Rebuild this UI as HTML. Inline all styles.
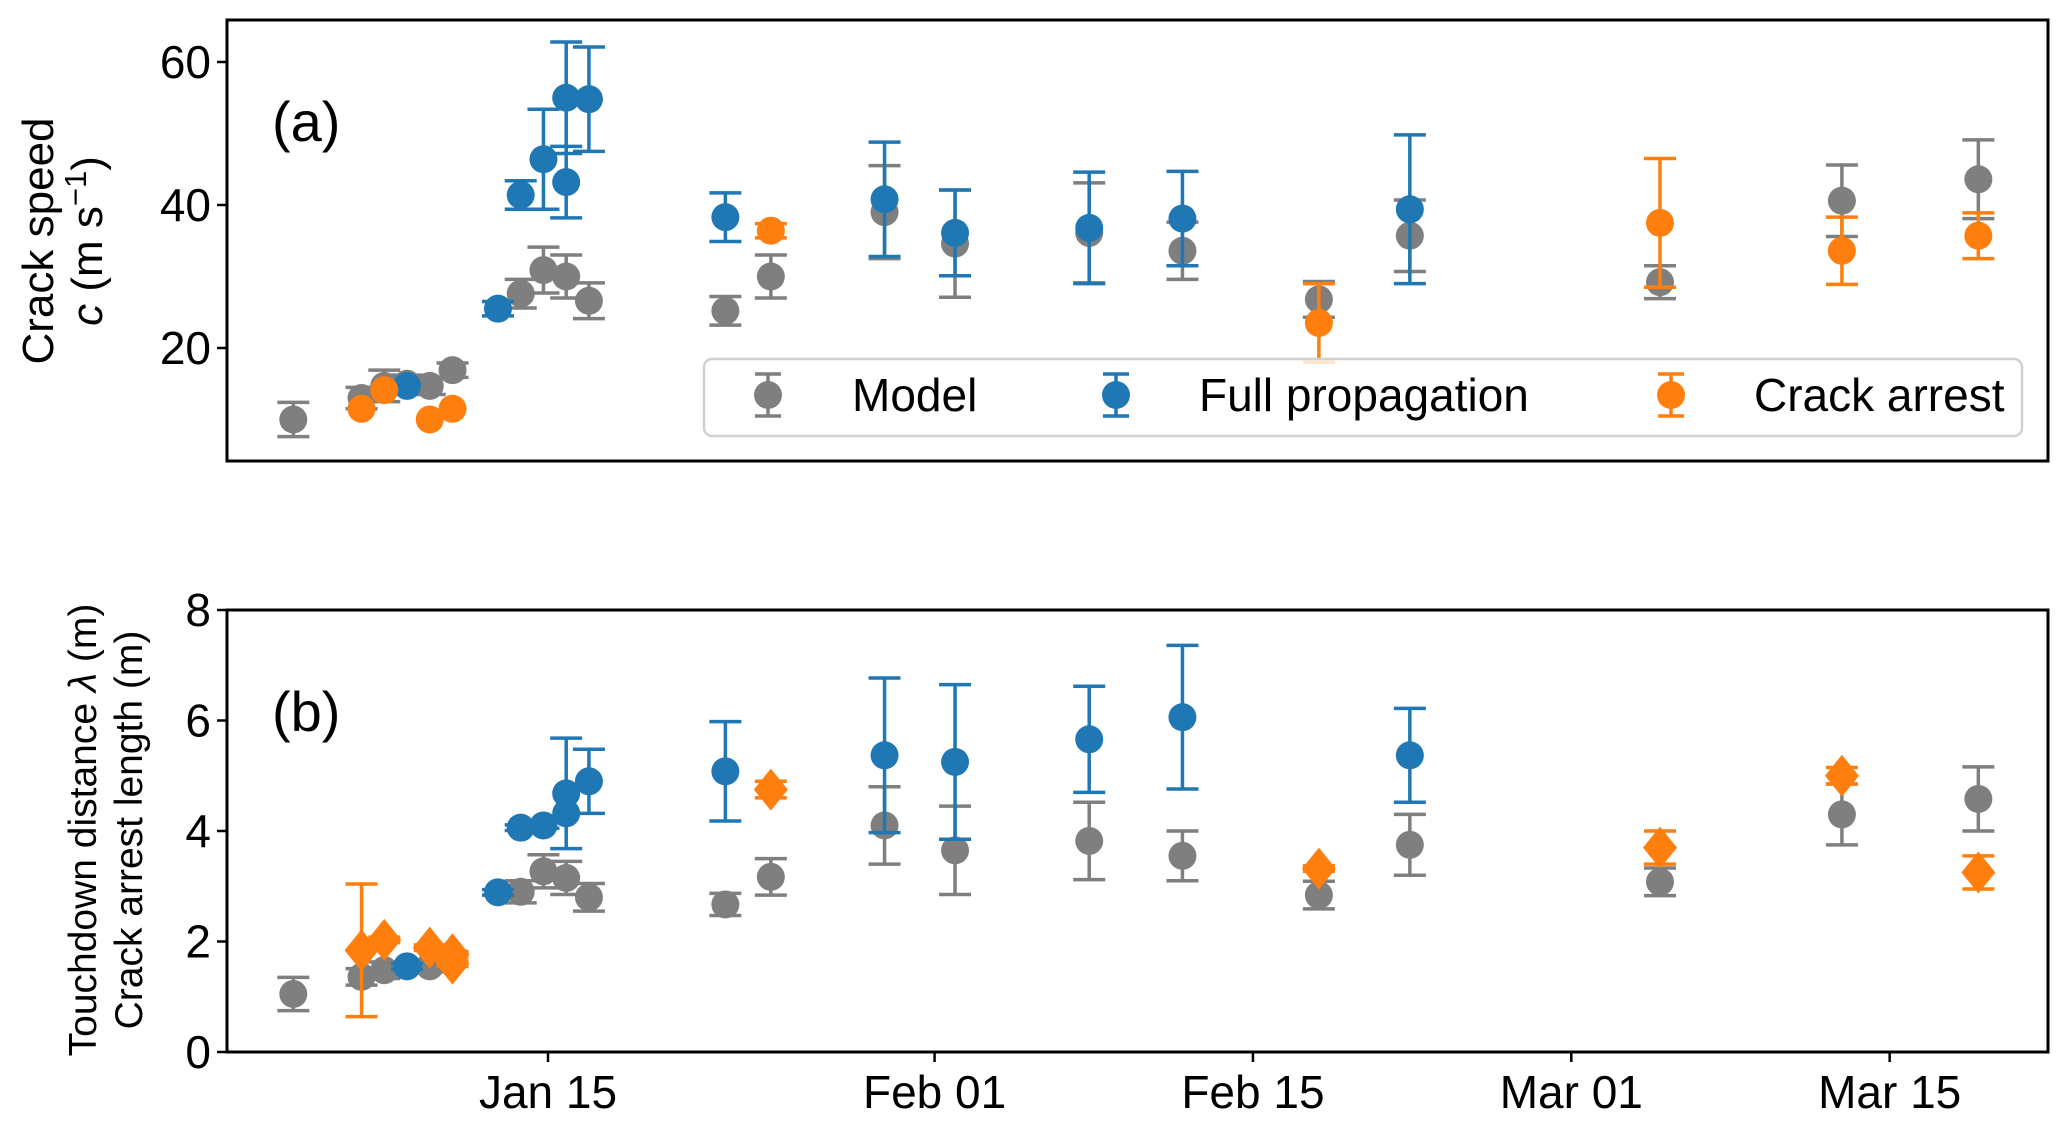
<!DOCTYPE html>
<html><head><meta charset="utf-8"><style>
html,body{margin:0;padding:0;background:#fff;}
svg{display:block;font-family:"Liberation Sans",sans-serif;}
</style></head><body>
<svg id="fig" width="2067" height="1134" viewBox="0 0 2067 1134"></svg>
<script>
// ---- data (day index: Jan 1 = 0) ----
const aModelDay=[2.8,5.8,6.8,7.8,8.8,9.8,12.8,13.8,14.8,15.8,21.8,23.8,28.8,31.9,37.8,41.9,47.9,51.9,62.9,70.9,76.9];
const aModelVal=[10.0,13.0,14.7,15.0,14.7,16.9,27.6,30.9,30.0,26.6,25.2,30.0,39.0,34.6,36.1,33.6,26.8,35.7,29.2,40.6,43.6];
const aModelErr=[2.4,1.5,2.2,1.2,1.2,1.0,2.0,3.2,3.0,2.5,2.0,3.0,6.5,7.5,7.0,4.0,2.5,5.0,2.3,5.0,5.5];
const aFullDay=[7.8,11.8,12.8,13.8,14.8,14.8,15.8,21.8,28.8,31.9,37.8,41.9,51.9];
const aFullVal=[14.7,25.5,41.4,46.4,55.0,43.2,54.8,38.3,40.8,36.1,36.8,38.1,39.4];
const aFullErr=[0.5,1.0,2.0,7.0,7.8,5.0,7.3,3.4,8.0,6.0,7.8,6.6,10.4];
const aArrDay=[5.8,6.8,8.8,9.8,23.8,47.9,62.9,70.9,76.9];
const aArrVal=[11.5,14.1,10.0,11.5,36.4,23.5,37.5,33.6,35.7];
const aArrErr=[0.5,0.5,0.5,0.5,1.0,5.5,9.0,4.7,3.2];

const bModelDay=[2.8,5.8,6.8,8.8,9.8,12.8,13.8,14.8,15.8,21.8,23.8,28.8,31.9,37.8,41.9,47.9,51.9,62.9,70.9,76.9];
const bModelVal=[1.05,1.36,1.48,1.55,1.7,2.9,3.27,3.15,2.8,2.67,3.17,4.1,3.65,3.82,3.55,2.84,3.75,3.08,4.3,4.58];
const bModelErr=[0.3,0.15,0.15,0.1,0.1,0.2,0.3,0.3,0.25,0.2,0.33,0.7,0.8,0.7,0.45,0.25,0.55,0.25,0.55,0.58];
const bFullDay=[7.8,11.8,12.8,13.8,14.8,14.8,15.8,21.8,28.8,31.9,37.8,41.9,51.9];
const bFullVal=[1.55,2.89,4.06,4.1,4.32,4.68,4.9,5.08,5.37,5.25,5.66,6.06,5.37];
const bFullErr=[0.05,0.05,0.05,0.05,0.0,1.0,0.58,0.9,1.4,1.4,0.96,1.3,0.85];
const bArrDay=[5.8,6.8,8.8,9.8,9.8,23.8,47.9,62.9,70.9,76.9];
const bArrVal=[1.84,2.03,1.89,1.77,1.6,4.75,3.32,3.7,5.0,3.25];
const bArrErr=[1.2,0.05,0.05,0.05,0.05,0.15,0.05,0.3,0.15,0.3];

const xTickDays=[14,31,45,59,73];
const xTickLabels=["Jan 15","Feb 01","Feb 15","Mar 01","Mar 15"];
const aYTicks=[20,40,60];
const bYTicks=[0,2,4,6,8];

const GRAY="#7f7f7f",BLUE="#1f77b4",ORANGE="#ff7f0e";
const NS="http://www.w3.org/2000/svg";
const svg=document.getElementById('fig');
const L=227,R=2048;
const x=d=>548+(d-14)*22.74;
const yA=v=>491-v*7.15;
const yB=v=>1052-v*55.25;

function el(tag,attrs,parent){const e=document.createElementNS(NS,tag);for(const k in attrs)e.setAttribute(k,attrs[k]);(parent||svg).appendChild(e);return e;}

function series(days,vals,errs,yf,color,shape,name){
  const g=el('g',{});
  
  
  for(let i=0;i<days.length;i++){
    const cx=x(days[i]),cy=yf(vals[i]);
    if(errs[i]>0.6||(errs[i]>0.04&&yf===yB)){
      const y1=yf(vals[i]+errs[i]),y2=yf(vals[i]-errs[i]);
      const eb=el('path',{d:`M${cx},${y1}V${y2}M${cx-16},${y1}H${cx+16}M${cx-16},${y2}H${cx+16}`,stroke:color,'stroke-width':3.5,fill:'none'},g);
      
      
    }
    let m;
    if(shape==='d'){
      m=el('polygon',{points:`${cx},${cy-21} ${cx+17},${cy} ${cx},${cy+21} ${cx-17},${cy}`,fill:color},g);
    }else{
      m=el('circle',{cx:cx,cy:cy,r:14,fill:color},g);
    }
    
    
  }
}

function axes(top,bot,yf,ticks,label,name,showX){
  const f=el('rect',{x:L,y:top,width:R-L,height:bot-top,fill:'none',stroke:'#000','stroke-width':3});
  
  
  ticks.forEach(t=>{
    const yy=yf(t);
    el('line',{x1:L-10,x2:L,y1:yy,y2:yy,stroke:'#000','stroke-width':2.5});
    const tx=el('text',{x:L-16,y:yy+16,'text-anchor':'end','font-size':46});
    tx.textContent=t;
    
    
  });
  if(showX){
    xTickDays.forEach((d,i)=>{
      const xx=x(d);
      el('line',{x1:xx,x2:xx,y1:bot,y2:bot+10,stroke:'#000','stroke-width':2.5});
      const tx=el('text',{x:xx,y:bot+56,'text-anchor':'middle','font-size':46});
      tx.textContent=xTickLabels[i];
      
      
    });
  }
  const lb=el('text',{x:272,y:top+121,'font-size':56});
  lb.textContent=label;
  
  
}

axes(20,461,yA,aYTicks,"(a)","panel-a",false);
axes(610,1052,yB,bYTicks,"(b)","panel-b",true);

let t=el('text',{transform:'translate(53,241) rotate(-90)','text-anchor':'middle','font-size':44});
t.textContent="Crack speed";


t=el('text',{transform:'translate(102,241) rotate(-90)','text-anchor':'middle','font-size':44});
t.innerHTML='<tspan font-style="italic">c</tspan> (m s<tspan dy="-16" font-size="31">−1</tspan><tspan dy="16">)</tspan>';


t=el('text',{transform:'translate(96,830) rotate(-90)','text-anchor':'middle','font-size':39});
t.innerHTML='Touchdown distance <tspan font-style="italic">λ</tspan> (m)';


t=el('text',{transform:'translate(142,830) rotate(-90)','text-anchor':'middle','font-size':39});
t.textContent="Crack arrest length (m)";



series(aModelDay,aModelVal,aModelErr,yA,GRAY,'o','model-a');
series(aFullDay,aFullVal,aFullErr,yA,BLUE,'o','full-propagation-a');
series(aArrDay,aArrVal,aArrErr,yA,ORANGE,'o','crack-arrest-a');
series(bModelDay,bModelVal,bModelErr,yB,GRAY,'o','model-b');
series(bFullDay,bFullVal,bFullErr,yB,BLUE,'o','full-propagation-b');
series(bArrDay,bArrVal,bArrErr,yB,ORANGE,'d','crack-arrest-b');

const lg=el('g',{});


el('rect',{x:704,y:359,width:1318,height:77,rx:8,fill:'rgba(255,255,255,0.8)',stroke:'#d0d0d0','stroke-width':2.5},lg);
[[768,852,GRAY,"Model"],[1116,1199,BLUE,"Full propagation"],[1671,1754,ORANGE,"Crack arrest"]].forEach(e=>{
  const cy=395;
  el('path',{d:`M${e[0]},${cy-21}V${cy+21}M${e[0]-13},${cy-21}H${e[0]+13}M${e[0]-13},${cy+21}H${e[0]+13}`,stroke:e[2],'stroke-width':3.5},lg);
  const c=el('circle',{cx:e[0],cy:cy,r:14,fill:e[2]},lg);
  
  
  const tx=el('text',{x:e[1],y:cy+16,'font-size':46},lg);
  tx.textContent=e[3];
  
  
});
</script>
</body></html>
